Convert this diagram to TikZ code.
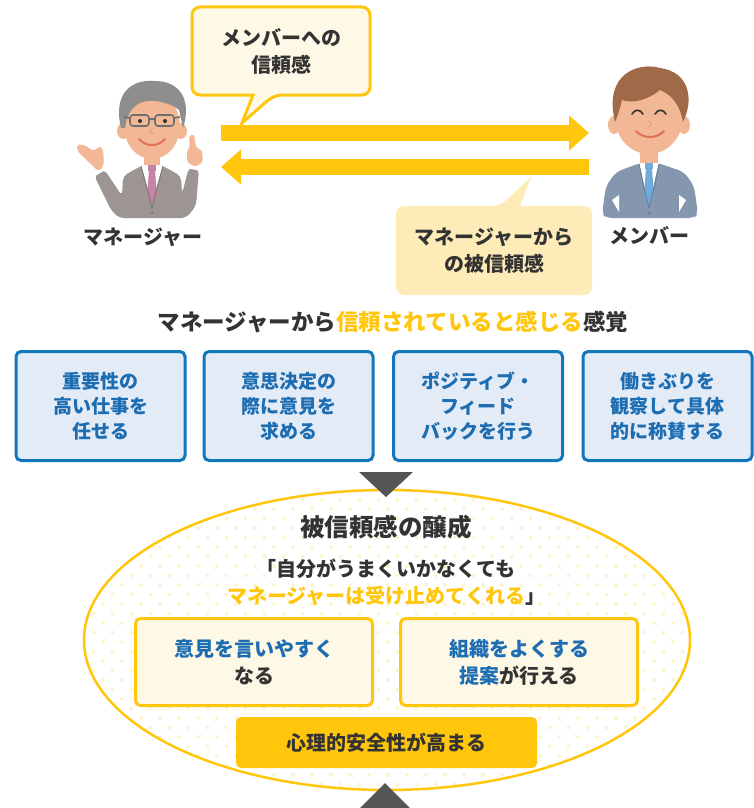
\documentclass[tikz,border=0pt]{standalone}
\usepackage{fontspec}
\setmainfont{Noto Sans CJK JP}
\usetikzlibrary{arrows.meta,shapes.geometric}

\definecolor{ylw}{HTML}{FFC60B}
\definecolor{cream}{HTML}{FEF8E6}
\definecolor{paleylw}{HTML}{FDEBB8}
\definecolor{bluebd}{HTML}{1277BD}
\definecolor{bluefill}{HTML}{E3EBF6}
\definecolor{bluetxt}{HTML}{1C6DB2}
\definecolor{ink}{HTML}{333333}
\definecolor{arrowgray}{HTML}{555555}
\definecolor{dotc}{HTML}{FDF3D0}
\definecolor{skin}{HTML}{F2B794}
\definecolor{skindark}{HTML}{E3A07C}
\definecolor{grayhair}{HTML}{8E8E8E}
\definecolor{glassgray}{HTML}{6E6E6E}
\definecolor{brownhair}{HTML}{A06A48}
\definecolor{suitgray}{HTML}{9C9592}
\definecolor{suitgraydk}{HTML}{7F7875}
\definecolor{suitblue}{HTML}{8497AF}
\definecolor{suitbluedk}{HTML}{6B7E97}
\definecolor{tiepink}{HTML}{C584A6}
\definecolor{tieblue}{HTML}{72AADA}
\definecolor{smile}{HTML}{E26F50}

\begin{document}
\begin{tikzpicture}[x=1pt, y=-1pt,
    txt/.style={font=\bfseries\fontsize{20pt}{27pt}\selectfont, text=ink, align=center, inner sep=0pt},
    infobox/.style={txt, rectangle, draw=bluebd, fill=bluefill, line width=3pt, rounded corners=5pt,
        minimum width=169pt, minimum height=109pt, text=bluetxt, font=\bfseries\fontsize{19pt}{25pt}\selectfont},
    ideabox/.style={txt, rectangle, draw=ylw, fill=cream, line width=3pt, rounded corners=5pt,
        minimum width=237pt, minimum height=87pt},
    bigarrow/.style={-{Triangle[length=20pt, width=34pt]}, line width=16pt, ylw}
]
    \useasboundingbox (0,0) rectangle (754,808);

    % --- manager ---
    \fill[skin, rounded corners=4pt] (99,172) -- (93,166) -- (78,152) -- (76,145) -- (83,144) -- (95,152)
        -- (98,146) -- (103,148) -- (104,165) -- cycle;
    \fill[skin, rounded corners=3pt] (189,136) -- (194,134) -- (196,148) -- (202,150) -- (203,162)
        -- (195,167) -- (187,162) -- (187,150) -- (190,148) -- cycle;
    \fill[suitgray, rounded corners=5pt] (94,175) -- (104,169) -- (122,196) -- (123,176) -- (141,166)
        -- (163,166) -- (181,176) -- (182,194) -- (189,167) -- (199,169) -- (196,206) -- (186,218)
        -- (119,218) -- (111,210) -- cycle;
    \draw[white, line width=3pt] (94,175) -- (104,169) (189,167) -- (199,169);
    \fill[skin] (144,148) rectangle (160,168);
    \fill[white] (141,165) -- (163,165) -- (152,204) -- cycle;
    \fill[tiepink] (149,170) -- (155,170) -- (157,196) -- (152,204) -- (147,196) -- cycle;
    \fill[tiepink] (148,165) rectangle (156,171);
    \draw[suitgraydk, line width=1pt] (141,166) -- (147,188) -- (152,208) (163,166) -- (157,188) -- (152,208);
    \fill[suitgraydk] (152,213) circle (1.5pt);
    \fill[skin] (123,131) ellipse [x radius=6pt, y radius=8pt];
    \fill[skin] (181,131) ellipse [x radius=6pt, y radius=8pt];
    \fill[skin] (152,126) ellipse [x radius=28pt, y radius=33pt];
    \fill[grayhair] (121,128) .. controls (112,90) and (135,79) .. (155,81) .. controls (180,81) and (192,100) .. (183,128)
        -- (179,110) .. controls (170,102) and (150,98) .. (140,103) .. controls (132,107) and (127,114) .. (125,128) -- cycle;
    \draw[glassgray, line width=1.6pt, rounded corners=3pt] (130,115) rectangle (149,126) (155,115) rectangle (174,126);
    \draw[glassgray, line width=1.6pt] (149,119) -- (155,119) (130,118) -- (124,117) (174,118) -- (180,117);
    \fill[ink] (140,121) circle (2pt) (165,121) circle (2pt);
    \draw[skindark, line width=1pt] (152,128) -- (150,133) -- (154,134);
    \draw[smile, line width=2pt, line cap=round] (139,139) .. controls (146,147) and (158,147) .. (165,139);
    \node[txt] (mgrlabel) at (143,237) {マネージャー};

    % --- member ---
    \fill[suitblue, rounded corners=6pt] (602,214) -- (606,186) -- (616,172) -- (640,163) -- (658,163)
        -- (684,172) -- (694,186) -- (698,214) -- (694,218) -- (606,218) -- cycle;
    \fill[white] (612,200) -- (619,195) -- (619,212) -- cycle (686,200) -- (679,195) -- (679,212) -- cycle;
    \fill[skin] (640,146) rectangle (658,166);
    \fill[white] (639,163) -- (659,163) -- (649,205) -- cycle;
    \fill[tieblue] (646,168) -- (652,168) -- (654,196) -- (649,206) -- (644,196) -- cycle;
    \fill[tieblue] (645,163) rectangle (653,169);
    \draw[suitbluedk, line width=1pt] (639,164) -- (644,188) -- (649,208) (659,164) -- (654,188) -- (649,208);
    \fill[suitbluedk] (649,213) circle (1.5pt);
    \fill[skin] (614,125) ellipse [x radius=6pt, y radius=9pt];
    \fill[skin] (684,125) ellipse [x radius=6pt, y radius=9pt];
    \fill[skin] (649,117) ellipse [x radius=34pt, y radius=37pt];
    \fill[brownhair] (615,122) .. controls (603,72) and (640,62) .. (660,68) .. controls (690,72) and (694,100) .. (683,122)
        .. controls (680,105) and (672,95) .. (660,90) .. controls (648,100) and (632,104) .. (622,100)
        .. controls (620,108) and (618,115) .. (615,122) -- cycle;
    \draw[ink, line width=1.6pt, line cap=round] (632,114) .. controls (635,109) and (640,109) .. (643,114)
        (655,114) .. controls (658,109) and (663,109) .. (666,114);
    \draw[skindark, line width=1pt] (648,121) .. controls (652,123) and (652,126) .. (648,127);
    \draw[smile, line width=2pt, line cap=round] (636,131) .. controls (643,139) and (657,139) .. (664,131);
    \node[txt] (memlabel) at (649,236) {メンバー};

    % trust going both ways
    \coordinate (mgrside) at (221,150);
    \coordinate (memside) at (589,150);
    \draw[bigarrow] ([yshift=17pt]mgrside) -- ([yshift=17pt]memside);
    \draw[bigarrow] ([yshift=-17pt]memside) -- ([yshift=-17pt]mgrside);

    % speech bubbles
    \draw[ylw, fill=cream, line width=3pt] (192,50) [rounded corners=8pt] -- (192,7) -- (370,7) -- (370,95)
        -- (274,95) [sharp corners] -- (242,123) -- (253,95) [rounded corners=8pt] -- (192,95) -- cycle;
    \node[txt] (trustout) at (281,51) {メンバーへの\\信頼感};
    \fill[paleylw] (396,250) [rounded corners=8pt] -- (396,206) -- (500,206) [sharp corners] -- (531,177)
        -- (520,206) [rounded corners=8pt] -- (592,206) -- (592,295) -- (396,295) -- cycle;
    \node[txt] (trustin) at (494,251) {マネージャーから\\の被信頼感};

    \node[txt, font=\bfseries\fontsize{22.5pt}{27pt}\selectfont] (feeling) at (393,322)
        {マネージャーから{\color{ylw}信頼されていると感じる}感覚};

    % four behaviours
    \node[infobox] (delegate) at (100.5,406) {重要性の\\高い仕事を\\任せる};
    \node[infobox] (consult)  at (288.5,406) {意思決定の\\際に意見を\\求める};
    \node[infobox] (feedback) at (478,406) {ポジティブ・\\フィード\\バックを行う};
    \node[infobox] (praise)   at (667.5,406) {働きぶりを\\観察して具体\\的に称賛する};

    % dotted ellipse
    \begin{scope}
        \clip (387,640) ellipse [x radius=303pt, y radius=150pt];
        \foreach \j in {0,...,32}{
            \pgfmathsetmacro{\dx}{9.5*mod(\j,2)}
            \foreach \i in {0,...,32}
                \fill[dotc] ({84+\dx+19*\i},{490+9.5*\j}) circle (2pt);
        }
    \end{scope}
    \node[ellipse, draw=ylw, line width=2.5pt, minimum width=606pt, minimum height=300pt, inner sep=0pt] (growth) at (387,640) {};

    \node[txt, font=\bfseries\fontsize{24.5pt}{27pt}\selectfont] (growthtitle) at (386,527) {被信頼感の醸成};
    \node[txt] (quote) at (386,582) {「自分がうまくいかなくても\\{\color{ylw}マネージャーは受け止めてくれる}」};
    \node[ideabox] (speakup) at (254,662) {{\color{bluetxt}意見を言いやすく}\\なる};
    \node[ideabox] (propose) at (519,662) {{\color{bluetxt}組織をよくする}\\{\color{bluetxt}提案}が行える};
    \node[txt, fill=ylw, rounded corners=5pt, minimum width=301pt, minimum height=51pt] (safety) at (386.5,742.5) {心理的安全性が高まる};

    % triangles
    \fill[arrowgray] (359,472) -- (413,472) -- (386,497) -- cycle;
    \fill[arrowgray] (358,810) -- (412,810) -- (385,783) -- cycle;
\end{tikzpicture}
\end{document}
